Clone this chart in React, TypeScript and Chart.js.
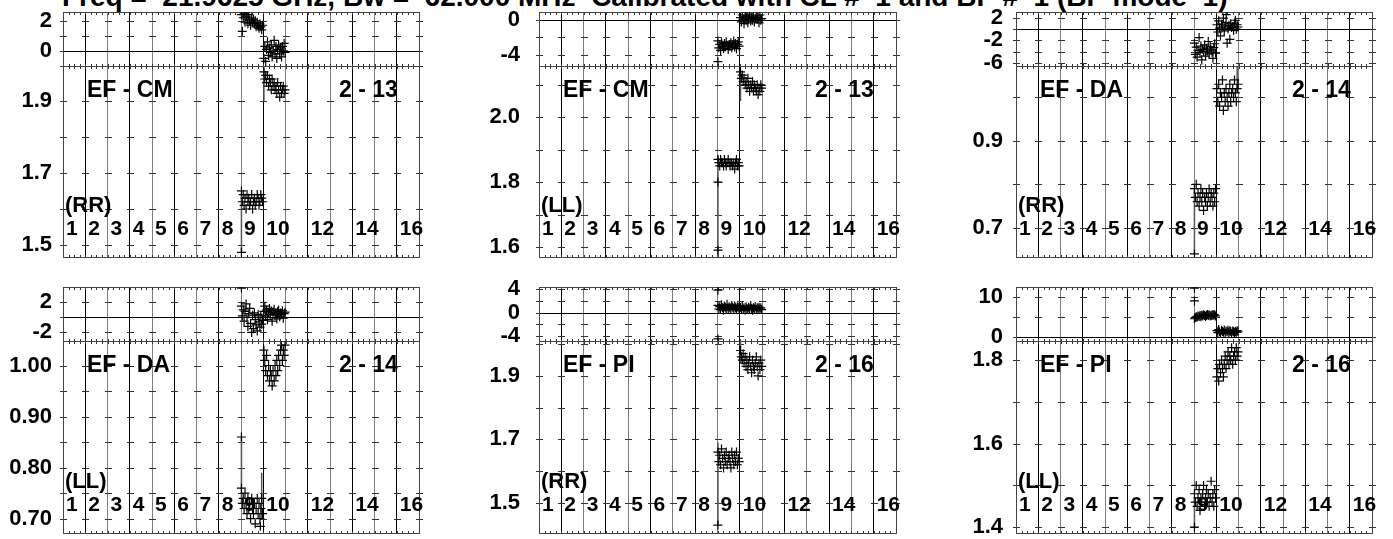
import React, { useEffect, useRef } from "react";
import { Chart, registerables } from "chart.js";
Chart.register(...registerables);

const FONT = "'Liberation Sans', Arial, Helvetica, sans-serif";

const TITLE = "Freq =  21.9625 GHz, Bw =  62.000 MHz  Calibrated with CL #  1 and BP #  1 (BP mode  1)";

// time stamps of the two scans (x axis)
const TIME_A = [8.02, 8.06, 8.10, 8.14, 8.18, 8.23, 8.27, 8.31, 8.35, 8.39, 8.43, 8.48, 8.52, 8.56, 8.60, 8.64, 8.68, 8.73, 8.77, 8.81, 8.85, 8.89, 8.93, 8.97];
const TIME_B = [9.03, 9.07, 9.11, 9.15, 9.19, 9.24, 9.28, 9.32, 9.36, 9.40, 9.44, 9.49, 9.53, 9.57, 9.61, 9.65, 9.69, 9.74, 9.78, 9.82, 9.86, 9.90, 9.94, 9.98];

// numbered markers written inside amplitude panels
const X_LABELS = ["1", "2", "3", "4", "5", "6", "7", "8", "9", "10", "12", "14", "16"];
const X_LABEL_AT = [0, 1, 2, 3, 4, 5, 6, 7, 8, 9, 11, 13, 15];

// ---- EF - CM (RR)
const CM_RR_PH_A = [2.4, 1.3, 2.2, 2.5, 1.9, 2.3, 2.1, 1.8, 2.4, 2.0, 1.7, 2.2, 1.9, 2.1, 1.8, 2.0, 1.6, 1.9, 1.7, 1.5, 1.8, 1.6, 1.4, 1.7];
const CM_RR_PH_B = [-0.5, 0.3, -0.7, 0.1, 0.6, -0.3, 0.2, -0.1, 0.4, -0.4, 0.0, 0.7, -0.2, 0.3, -0.5, 0.1, 0.4, -0.2, 0.2, -0.4, 0.3, 0.0, 0.5, -0.1];
const CM_RR_AMP_A = [1.65, 1.62, 1.64, 1.61, 1.63, 1.60, 1.64, 1.62, 1.63, 1.61, 1.62, 1.64, 1.60, 1.62, 1.63, 1.61, 1.62, 1.64, 1.63, 1.61, 1.62, 1.64, 1.63, 1.62];
const CM_RR_AMP_B = [1.98, 1.96, 1.97, 1.95, 1.97, 1.94, 1.96, 1.95, 1.93, 1.96, 1.94, 1.95, 1.93, 1.94, 1.92, 1.95, 1.93, 1.91, 1.94, 1.92, 1.93, 1.94, 1.92, 1.93];
const CM_RR_AMP_EXTRA = [[8.02, 1.48]];
const CM_RR_AMP_ERR = [[8.02, 1.48, 1.64], [9.03, 1.90, 1.99]];

// ---- EF - CM (LL)
const CM_LL_PH_A = [-2.4, -3.2, -2.8, -3.5, -2.6, -3.0, -3.3, -2.7, -3.1, -2.5, -2.9, -3.4, -2.8, -3.0, -2.6, -3.2, -2.9, -2.4, -3.1, -2.7, -3.3, -2.8, -2.5, -3.0];
const CM_LL_PH_B = [0.3, -0.2, 0.6, 0.1, -0.4, 0.4, 0.0, 0.5, -0.3, 0.2, 0.7, -0.1, 0.3, 0.0, 0.4, -0.2, 0.2, 0.5, 0.1, 0.3, -0.3, 0.6, 0.0, 0.2];
const CM_LL_PH_EXTRA = [[8.02, -4.8]];
const CM_LL_AMP_A = [1.87, 1.86, 1.85, 1.87, 1.86, 1.86, 1.85, 1.87, 1.86, 1.85, 1.86, 1.87, 1.86, 1.85, 1.86, 1.86, 1.85, 1.86, 1.84, 1.86, 1.87, 1.85, 1.86, 1.85];
const CM_LL_AMP_B = [2.14, 2.12, 2.13, 2.11, 2.12, 2.10, 2.11, 2.09, 2.12, 2.10, 2.08, 2.10, 2.09, 2.11, 2.08, 2.10, 2.09, 2.08, 2.10, 2.07, 2.09, 2.08, 2.10, 2.09];
const CM_LL_AMP_EXTRA = [[8.02, 1.80], [8.02, 1.59]];
const CM_LL_AMP_ERR = [[8.02, 1.57, 1.88], [9.03, 2.05, 2.13]];

// ---- EF - DA (RR)
const DA_RR_PH_A = [-2.5, -4.5, -3.2, -5.0, -3.8, -1.5, -4.2, -3.0, -5.5, -3.6, -4.0, -2.8, -4.8, -3.4, -3.9, -2.2, -4.4, -3.1, -3.7, -4.1, -5.2, -3.3, -2.6, -4.3];
const DA_RR_PH_B = [0.8, -0.5, 1.5, 0.2, -1.2, 0.9, 0.4, 2.0, -0.3, 0.6, 1.2, -2.5, 0.1, 0.7, -1.8, 1.0, 0.3, 0.5, -0.2, 1.1, 1.6, 0.0, 0.8, 0.4];
const DA_RR_PH_EXTRA = [[9.45, 2.6]];
const DA_RR_AMP_A = [0.79, 0.77, 0.80, 0.76, 0.78, 0.75, 0.77, 0.79, 0.76, 0.78, 0.74, 0.77, 0.76, 0.78, 0.75, 0.77, 0.79, 0.76, 0.78, 0.77, 0.75, 0.78, 0.76, 0.79];
const DA_RR_AMP_B = [1.02, 0.99, 1.03, 0.98, 1.01, 1.00, 1.04, 0.97, 1.01, 0.99, 1.02, 1.00, 0.98, 1.01, 1.03, 0.99, 1.01, 1.02, 1.00, 1.04, 1.01, 0.99, 1.02, 1.03];
const DA_RR_AMP_EXTRA = [[8.02, 0.64]];
const DA_RR_AMP_ERR = [[8.02, 0.64, 0.79], [9.94, 1.01, 1.075]];

// ---- EF - DA (LL)
const DA_LL_PH_A = [1.5, 0.2, 1.0, -0.5, 0.8, 1.8, 0.0, -1.2, 0.5, 1.2, -0.8, -2.0, 0.3, -1.5, 0.6, -0.3, -1.0, -1.8, 0.4, -0.6, -1.3, 0.2, -0.9, -0.4];
const DA_LL_PH_B = [0.8, 1.5, 0.2, 1.0, -0.3, 0.6, 1.2, 0.4, 0.9, -0.5, 0.7, 1.1, 0.3, 0.5, -0.2, 0.8, 1.0, 0.1, 0.6, 0.4, 0.9, -0.1, 0.5, 0.7];
const DA_LL_PH_EXTRA = [[8.02, 3.9]];
const DA_LL_AMP_A = [0.76, 0.73, 0.74, 0.72, 0.75, 0.73, 0.71, 0.74, 0.72, 0.73, 0.70, 0.74, 0.72, 0.71, 0.73, 0.69, 0.72, 0.74, 0.71, 0.73, 0.70, 0.72, 0.74, 0.71];
const DA_LL_AMP_B = [1.03, 1.01, 0.99, 1.02, 0.98, 1.00, 0.97, 0.99, 0.98, 0.96, 0.99, 0.97, 1.00, 0.98, 1.01, 0.99, 1.02, 1.00, 1.03, 1.04, 1.01, 1.03, 1.02, 1.04];
const DA_LL_AMP_EXTRA = [[8.02, 0.86], [8.87, 0.685]];
const DA_LL_AMP_ERR = [[8.02, 0.73, 0.86], [8.93, 0.70, 0.79]];

// ---- EF - PI (RR)
const PI_RR_PH_A = [1.2, 0.6, 1.0, 0.5, 1.3, 0.8, 0.4, 1.1, 0.9, 0.6, 1.4, 0.7, 1.0, 0.8, 0.5, 1.2, 0.9, 0.7, 1.1, 0.8, 0.6, 1.0, 0.9, 0.7];
const PI_RR_PH_B = [0.9, 0.5, 1.1, 0.6, 0.8, 0.4, 1.0, 0.7, 0.5, 0.9, 0.6, 1.2, 0.7, 0.4, 0.8, 0.6, 1.0, 0.5, 0.8, 0.7, 0.9, 0.6, 0.8, 0.5];
const PI_RR_PH_EXTRA = [[8.02, 3.8], [8.02, -4.5]];
const PI_RR_AMP_A = [1.66, 1.63, 1.65, 1.62, 1.67, 1.64, 1.61, 1.65, 1.63, 1.66, 1.62, 1.64, 1.65, 1.63, 1.61, 1.66, 1.64, 1.62, 1.65, 1.63, 1.66, 1.62, 1.64, 1.63];
const PI_RR_AMP_B = [1.98, 1.96, 1.95, 1.97, 1.94, 1.96, 1.93, 1.95, 1.92, 1.94, 1.96, 1.93, 1.91, 1.95, 1.93, 1.92, 1.94, 1.96, 1.93, 1.90, 1.94, 1.92, 1.95, 1.93];
const PI_RR_AMP_EXTRA = [[8.02, 1.43]];
const PI_RR_AMP_ERR = [[8.02, 1.43, 1.69], [9.03, 1.94, 2.01]];

// ---- EF - PI (LL)
const PI_LL_PH_A = [4.5, 4.8, 5.0, 4.9, 5.2, 5.1, 5.3, 5.0, 5.4, 5.2, 5.5, 5.3, 5.1, 5.4, 5.6, 5.3, 5.5, 5.2, 5.4, 5.3, 5.6, 5.4, 5.5, 5.2];
const PI_LL_PH_B = [1.5, 1.0, 1.8, 1.2, 0.8, 1.6, 1.3, 1.1, 1.7, 0.9, 1.4, 1.2, 1.6, 1.0, 1.5, 1.3, 0.8, 1.4, 1.2, 1.0, 1.3, 1.1, 1.5, 1.2];
const PI_LL_PH_EXTRA = [[8.02, 12.2], [8.02, 9.0]];
const PI_LL_AMP_A = [1.48, 1.46, 1.50, 1.45, 1.47, 1.49, 1.44, 1.47, 1.46, 1.48, 1.50, 1.45, 1.47, 1.49, 1.46, 1.48, 1.45, 1.47, 1.51, 1.46, 1.48, 1.45, 1.49, 1.47];
const PI_LL_AMP_B = [1.76, 1.78, 1.75, 1.79, 1.77, 1.80, 1.78, 1.76, 1.79, 1.81, 1.78, 1.80, 1.82, 1.79, 1.81, 1.80, 1.83, 1.79, 1.81, 1.82, 1.80, 1.83, 1.81, 1.82];
const PI_LL_AMP_EXTRA = [[8.02, 1.40]];
const PI_LL_AMP_ERR = [[8.02, 1.40, 1.47]];

const PANELS = [
  {
    pair: "EF - CM", base: "2 - 13", pol: "(RR)",
    phase: { min: -1.0, max: 2.58, labels: ["0", "2"], dashes: [-1, 0, 1, 2], a: CM_RR_PH_A, b: CM_RR_PH_B, extra: [], err: [] },
    amp: { min: 1.467, max: 1.996, labels: ["1.5", "1.7", "1.9"], dashes: [1.5, 1.6, 1.7, 1.8, 1.9], a: CM_RR_AMP_A, b: CM_RR_AMP_B, extra: CM_RR_AMP_EXTRA, err: CM_RR_AMP_ERR },
  },
  {
    pair: "EF - CM", base: "2 - 13", pol: "(LL)",
    phase: { min: -5.3, max: 0.95, labels: ["-4", "0"], dashes: [-4, -2, 0], a: CM_LL_PH_A, b: CM_LL_PH_B, extra: CM_LL_PH_EXTRA, err: [] },
    amp: { min: 1.569, max: 2.158, labels: ["1.6", "1.8", "2.0"], dashes: [1.6, 1.7, 1.8, 1.9, 2.0, 2.1], a: CM_LL_AMP_A, b: CM_LL_AMP_B, extra: CM_LL_AMP_EXTRA, err: CM_LL_AMP_ERR },
  },
  {
    pair: "EF - DA", base: "2 - 14", pol: "(RR)",
    phase: { min: -6.58, max: 3.08, labels: ["-6", "-2", "2"], dashes: [-6, -4, -2, 0, 2], a: DA_RR_PH_A, b: DA_RR_PH_B, extra: DA_RR_PH_EXTRA, err: [] },
    amp: { min: 0.633, max: 1.072, labels: ["0.7", "0.9"], dashes: [0.7, 0.8, 0.9, 1.0], a: DA_RR_AMP_A, b: DA_RR_AMP_B, extra: DA_RR_AMP_EXTRA, err: DA_RR_AMP_ERR },
  },
  {
    pair: "EF - DA", base: "2 - 14", pol: "(LL)",
    phase: { min: -3.15, max: 4.05, labels: ["-2", "2"], dashes: [-2, 0, 2], a: DA_LL_PH_A, b: DA_LL_PH_B, extra: DA_LL_PH_EXTRA, err: [] },
    amp: { min: 0.672, max: 1.048, labels: ["0.70", "0.80", "0.90", "1.00"], dashes: [0.7, 0.75, 0.8, 0.85, 0.9, 0.95, 1.0], a: DA_LL_AMP_A, b: DA_LL_AMP_B, extra: DA_LL_AMP_EXTRA, err: DA_LL_AMP_ERR },
  },
  {
    pair: "EF - PI", base: "2 - 16", pol: "(RR)",
    phase: { min: -4.85, max: 4.34, labels: ["-4", "0", "4"], dashes: [-4, -2, 0, 2, 4], a: PI_RR_PH_A, b: PI_RR_PH_B, extra: PI_RR_PH_EXTRA, err: [] },
    amp: { min: 1.405, max: 2.01, labels: ["1.5", "1.7", "1.9"], dashes: [1.5, 1.6, 1.7, 1.8, 1.9, 2.0], a: PI_RR_AMP_A, b: PI_RR_AMP_B, extra: PI_RR_AMP_EXTRA, err: PI_RR_AMP_ERR },
  },
  {
    pair: "EF - PI", base: "2 - 16", pol: "(LL)",
    phase: { min: -1.1, max: 12.5, labels: ["0", "10"], dashes: [0, 5, 10], a: PI_LL_PH_A, b: PI_LL_PH_B, extra: PI_LL_PH_EXTRA, err: [] },
    amp: { min: 1.386, max: 1.846, labels: ["1.4", "1.6", "1.8"], dashes: [1.4, 1.5, 1.6, 1.7, 1.8], a: PI_LL_AMP_A, b: PI_LL_AMP_B, extra: PI_LL_AMP_EXTRA, err: PI_LL_AMP_ERR },
  },
];

// layout (pixels)
const COLS = [
  { L: 63, R: 419, pad: 11 },
  { L: 539, R: 896, pad: 19 },
  { L: 1016, R: 1372, pad: 13 },
];
const ROWS = [
  { T: 12, D: 66, B: 257 },
  { T: 287, D: 341, B: 533 },
];
const AXW = 62;
const PADT = 12;
const PADB = 12;
const PADR = 12;

function framePlugin(spec: any) {
  return {
    id: "frame",
    beforeDatasetsDraw(chart: any) {
      const { ctx, chartArea: a } = chart;
      const xs = chart.scales.x;
      const ys = chart.scales.y;
      const L = Math.round(a.left);
      const R = Math.round(a.right);
      const T = Math.round(a.top);
      const B = Math.round(a.bottom);
      ctx.save();
      ctx.lineWidth = 1;
      ctx.strokeStyle = "#333";
      ctx.beginPath();
      for (let k = 1; k < 64; k++) {
        const px = Math.round(xs.getPixelForValue(k / 4)) + 0.5;
        ctx.moveTo(px, T);
        ctx.lineTo(px, T + 3);
        ctx.moveTo(px, B + 1);
        ctx.lineTo(px, B - 2);
      }
      ctx.stroke();
      ctx.beginPath();
      spec.dashes.forEach((v: number) => {
        const py = Math.round(ys.getPixelForValue(v)) + 0.5;
        for (let k = 0; k <= 16; k++) {
          const px = Math.round(xs.getPixelForValue(k));
          ctx.moveTo(px - 3, py);
          ctx.lineTo(px + 4, py);
        }
      });
      ctx.stroke();
      if (spec.zero) {
        const py = Math.round(ys.getPixelForValue(0)) + 0.5;
        ctx.strokeStyle = "#000";
        ctx.beginPath();
        ctx.moveTo(L, py);
        ctx.lineTo(R, py);
        ctx.stroke();
      }
      ctx.strokeStyle = "#444";
      ctx.strokeRect(L + 0.5, T + 0.5, R - L, B - T);
      if (spec.texts) {
        ctx.fillStyle = "#000";
        ctx.textBaseline = "middle";
        ctx.textAlign = "left";
        ctx.font = `bold 23px ${FONT}`;
        ctx.fillText(spec.texts.pair, L + 24, T + 25);
        ctx.fillText(spec.texts.base, L + 276, T + 25);
        ctx.font = `bold 22px ${FONT}`;
        ctx.fillText(spec.texts.pol, L + 2, B - 51);
        ctx.font = `bold 21px ${FONT}`;
        X_LABELS.forEach((s, i) => {
          ctx.fillText(s, xs.getPixelForValue(X_LABEL_AT[i]) + 3, B - 28);
        });
      }
      ctx.restore();
    },
  };
}

function makeChart(canvas: HTMLCanvasElement, spec: any) {
  const pts = (xs: number[], ys: number[]) => xs.map((x, i) => ({ x, y: ys[i] }));
  const cross = { pointStyle: "cross", pointRadius: 4.5, borderColor: "#000", borderWidth: 1.2, showLine: false };
  const datasets: any[] = [
    { ...cross, data: pts(TIME_A, spec.a) },
    { ...cross, data: pts(TIME_B, spec.b) },
    { ...cross, data: spec.extra.map((p: number[]) => ({ x: p[0], y: p[1] })) },
  ];
  spec.err.forEach((e: number[]) => {
    datasets.push({
      data: [{ x: e[0], y: e[1] }, { x: e[0], y: e[2] }],
      showLine: true, pointRadius: 0, borderColor: "#555", borderWidth: 1.5,
    });
  });
  const labels: string[] = spec.labels;
  return new Chart(canvas, {
    type: "scatter",
    data: { datasets },
    options: {
      animation: false,
      responsive: false,
      maintainAspectRatio: false,
      layout: { autoPadding: false, padding: { left: 0, right: PADR, top: PADT, bottom: PADB } },
      plugins: { legend: { display: false }, tooltip: { enabled: false } },
      scales: {
        x: {
          type: "linear", min: 0, max: 16,
          afterBuildTicks: (s: any) => { s.ticks = [1, 2, 3, 4, 5, 6, 7, 8, 9, 10, 11, 12, 13, 14, 15].map((v) => ({ value: v })); },
          ticks: { display: false },
          grid: {
            drawTicks: false,
            color: (c: any) => (c.tick && c.tick.value % 2 === 0 ? "#7d7d7d" : "#000"),
            lineWidth: 1,
          },
          border: { display: false },
          afterFit: (s: any) => { s.height = 0; s.paddingLeft = 0; s.paddingRight = 0; },
        },
        y: {
          type: "linear", min: spec.min, max: spec.max,
          afterBuildTicks: (s: any) => { s.ticks = labels.map((l) => ({ value: parseFloat(l) })); },
          ticks: {
            autoSkip: false,
            callback: (_v: any, i: number) => labels[i],
            color: "#000",
            font: { family: FONT, size: 22, weight: "bold" },
            padding: spec.labelPad,
          },
          grid: { display: false, drawTicks: false },
          border: { display: false },
          afterFit: (s: any) => { s.width = AXW; s.paddingTop = 0; s.paddingBottom = 0; },
        },
      },
    } as any,
    plugins: [framePlugin(spec)],
  });
}

function SubPlot({ spec }: { spec: any }) {
  const ref = useRef<HTMLCanvasElement>(null);
  useEffect(() => {
    const chart = makeChart(ref.current as HTMLCanvasElement, spec);
    return () => chart.destroy();
  }, [spec]);
  return (
    <canvas
      ref={ref}
      width={spec.w}
      height={spec.h}
      style={{ position: "absolute", left: spec.left, top: spec.top, width: spec.w, height: spec.h }}
    />
  );
}

const SPECS: any[] = [];
PANELS.forEach((p, i) => {
  const col = COLS[i % 3];
  const row = ROWS[Math.floor(i / 3)];
  const base = { left: col.L - AXW, w: col.R - col.L + AXW + PADR, labelPad: col.pad };
  SPECS.push({ ...base, ...p.phase, top: row.T - PADT, h: row.D - row.T + PADT + PADB, zero: true, key: `p${i}` });
  SPECS.push({ ...base, ...p.amp, top: row.D - PADT, h: row.B - row.D + PADT + PADB, texts: { pair: p.pair, base: p.base, pol: p.pol }, key: `a${i}` });
});

export default function App() {
  return (
    <div style={{ position: "fixed", left: 0, top: 0, width: 1393, height: 539, overflow: "hidden", background: "#fff" }}>
      <div
        style={{
          position: "absolute", left: 62, top: -17, whiteSpace: "pre",
          font: `bold 28px ${FONT}`, lineHeight: "28px", color: "#000",
        }}
      >
        {TITLE}
      </div>
      {SPECS.map((s) => (
        <SubPlot key={s.key} spec={s} />
      ))}
    </div>
  );
}
